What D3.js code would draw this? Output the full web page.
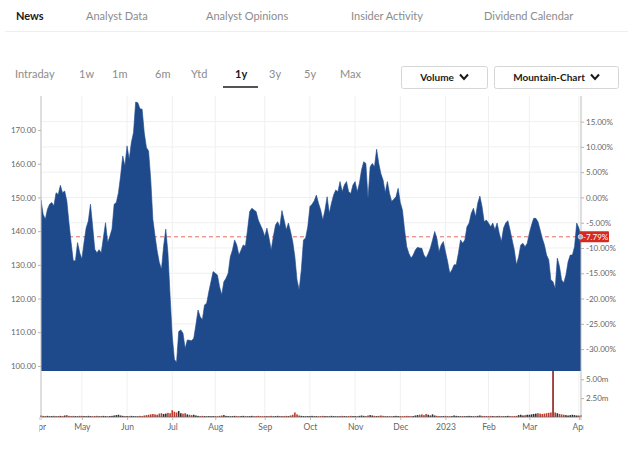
<!DOCTYPE html>
<html><head><meta charset="utf-8">
<script src="https://cdn.jsdelivr.net/npm/d3@7"></script>
<style>
html,body{margin:0;padding:0;background:#fff;}
svg{display:block;font-family:Lato,"Open Sans",sans-serif;}
</style></head><body>
<svg id="chart" width="634" height="460"></svg>
<script>
// ---------- data ----------
const navTabs = ["News", "Analyst Data", "Analyst Opinions", "Insider Activity", "Dividend Calendar"];
const activeTab = "News";
const rangeButtons = ["Intraday", "1w", "1m", "6m", "Ytd", "1y", "3y", "5y", "Max"];
const activeRange = "1y";
const dropdowns = ["Volume", "Mountain-Chart"];

// market holidays (trading calendar, Apr 2022 - Apr 2023)
const holidays = ["2022-04-15","2022-05-30","2022-06-20","2022-07-04","2022-09-05",
  "2022-11-24","2022-12-26","2023-01-02","2023-01-16","2023-02-20"];
const firstCalendarDay = "2022-04-01";
const lastCalendarDay = "2023-04-04";
const firstDataDay = "2022-04-04";

// daily closes, per month
const closesApr22 = [149.3,145,143.5,146.5,148,148.5,147.5,151.4,150.9,153.6,151.4,151.9,149,142.5,136.6,131.2,131.2,136.6,133.6];
const closesMay22 = [131.7,136.6,141,143,148,141.5,134.6,133.6,134.5,133.6,138.1,142.5,136.6,138.5,140.6,148,148.5,151.4,156.4,162.3,159.3];
const closesJun22 = [165.3,161.3,166.3,169.3,178.3,178.1,176.3,176.2,169.2,164.8,163.8,155.4,143.5,138.6,134.1,130.7,128.7,135.6,140.6,133.6,120.8];
const closesJul22 = [108.9,102,101,110.2,110.7,109.7,105.2,107.7,107.6,107.5,108.2,112.2,116.6,114.6,113.7,118.1,118.6,122,125,128];
const closesAug22 = [127.5,127,123.5,121.1,125,126,127.5,132.4,134.4,137.4,135.9,132.9,134.4,135.9,135.5,140.4,145.8,146.8,146.3,145.8,143.3,141.8,140.4];
const closesSep22 = [138.4,140.9,137.9,134.4,138.4,141.8,142.8,141.3,146.1,143.3,140.4,142.4,139.9,136.9,132.4,125.5,122.6,128.5,137.4,138,141.3];
const closesOct22 = [147.3,148,149,150.7,148.3,146.3,143.3,146.3,150.2,145.3,148.3,150.7,152.2,151.7,154.7,151.7,153.7,154.7,151.7,151.2,153.7];
const closesNov22 = [154.7,151.7,154.2,158.2,160.6,160.1,149.7,159.1,160.1,159.1,164.3,160.1,157,155.2,151.5,154.7,151.2,148.8,149.5,150.2,152.7];
const closesDec22 = [148.5,146.3,140.4,135.4,133.4,132,132.9,134.4,135.2,135,134.9,132.9,132,133.4,135,137.4,139.9,137.9,133.9,135.9,136.9];
const closesJan23 = [133.9,131,127.5,128.5,130,130,133.4,137.4,136.4,137.4,141.3,142.4,145.3,146.8,144.3,148.3,150.4,147.3,142.8,143.3];
const closesFeb23 = [142.4,141.3,142.4,140.4,142.4,139.4,136.9,140.9,142.4,143.1,140.4,137.4,134.4,130,132.4,135.9,136.4,135.4,136.4];
const closesMar23 = [139.4,141.8,143.8,143.8,142.8,140.4,137.9,135.9,132.9,131.5,125.5,125,123,132,129.5,125.5,124.7,127,130.9,132.9,132.9,135.4,142.4];
const closesApr23 = [140.9,138.32];

// daily volume in millions, per month
const volApr22 = [0.2,0.15,0.12,0.15,0.1,0.12,0.15,0.1,0.12,0.15,0.12,0.2,0.25,0.15,0.12,0.15,0.12,0.1,0.15];
const volMay22 = [0.15,0.12,0.1,0.15,0.12,0.1,0.12,0.15,0.1,0.12,0.15,0.12,0.1,0.12,0.15,0.2,0.25,0.3,0.2,0.15,0.12];
const volJun22 = [0.12,0.1,0.15,0.12,0.1,0.12,0.15,0.12,0.2,0.25,0.3,0.35,0.4,0.35,0.3,0.45,0.5,0.4,0.45,0.55,0.5];
const volJul22 = [0.9,0.7,0.6,0.8,0.5,0.45,0.5,0.35,0.3,0.25,0.3,0.2,0.15,0.12,0.15,0.12,0.1,0.12,0.1,0.12];
const volAug22 = [0.12,0.1,0.15,0.2,0.25,0.15,0.12,0.1,0.12,0.15,0.12,0.1,0.12,0.15,0.12,0.1,0.12,0.15,0.1,0.12,0.15,0.12,0.1];
const volSep22 = [0.12,0.1,0.12,0.15,0.1,0.12,0.15,0.12,0.1,0.12,0.15,0.12,0.2,0.3,0.6,0.35,0.2,0.15,0.12,0.1,0.12];
const volOct22 = [0.12,0.15,0.1,0.12,0.1,0.12,0.15,0.12,0.1,0.12,0.15,0.12,0.1,0.12,0.1,0.15,0.12,0.1,0.12,0.15,0.12];
const volNov22 = [0.12,0.1,0.15,0.2,0.15,0.12,0.2,0.25,0.2,0.15,0.12,0.15,0.2,0.15,0.12,0.1,0.12,0.1,0.12,0.15,0.12];
const volDec22 = [0.12,0.1,0.12,0.15,0.12,0.1,0.12,0.2,0.25,0.3,0.35,0.25,0.4,0.3,0.2,0.35,0.2,0.15,0.12,0.1,0.12];
const volJan23 = [0.15,0.12,0.1,0.12,0.2,0.15,0.12,0.1,0.12,0.1,0.12,0.15,0.12,0.1,0.12,0.15,0.2,0.15,0.12,0.1];
const volFeb23 = [0.12,0.15,0.12,0.1,0.12,0.15,0.12,0.1,0.12,0.15,0.12,0.1,0.12,0.15,0.25,0.3,0.2,0.25,0.3];
const volMar23 = [0.3,0.35,0.4,0.45,0.5,0.45,0.4,0.45,0.5,0.55,0.6,6.1,0.6,0.5,0.4,0.35,0.3,0.25,0.2,0.25,0.3,0.25,0.2];
const volApr23 = [0.2,0.25];

const referencePrice = 150;           // 0.00% level
const priceTicks = [100,110,120,130,140,150,160,170];
const pctTicks = [15,10,5,0,-5,-10,-15,-20,-25,-30];
const volumeTicks = [2.5,5];
const priceDomain = [98.5,180.1];

// ---------- build ----------
const closes = [].concat(closesApr22,closesMay22,closesJun22,closesJul22,closesAug22,closesSep22,
  closesOct22,closesNov22,closesDec22,closesJan23,closesFeb23,closesMar23,closesApr23);
const volumes = [].concat(volApr22,volMay22,volJun22,volJul22,volAug22,volSep22,volOct22,
  volNov22,volDec22,volJan23,volFeb23,volMar23,volApr23);

const parse = d3.timeParse("%Y-%m-%d"), fmt = d3.timeFormat("%Y-%m-%d");
const hol = new Set(holidays);
const calendar = d3.timeDay.range(parse(firstCalendarDay), d3.timeDay.offset(parse(lastCalendarDay),1))
  .filter(d => d.getDay() > 0 && d.getDay() < 6 && !hol.has(fmt(d)));
const startIdx = calendar.findIndex(d => fmt(d) === firstDataDay);
const data = closes.map((c,i) => ({idx: startIdx + i, date: calendar[startIdx+i], close: c, vol: volumes[i],
  up: i === 0 ? true : c >= closes[i-1]}));

const svg = d3.select("#chart");
const L = 41, R = 581, T = 96, PB = 371, VB = 417;

const x = d3.scaleLinear().domain(d3.extent(data, d => d.idx)).range([L, R]);
const yP = d3.scaleLinear().domain(priceDomain).range([PB, T]);
const yPct = d3.scaleLinear().domain(priceDomain.map(p => (p/referencePrice - 1)*100)).range([PB, T]);
const yV = d3.scaleLinear().domain([0, d3.max(volumes)]).range([VB, PB]);

// ---------- header ----------
const navX = [16, 86, 206, 351, 484];
svg.selectAll("text.nav").data(navTabs).join("text")
  .attr("x", (d,i) => navX[i]).attr("y", 20)
  .attr("font-size", 11).attr("font-weight", d => d === activeTab ? 700 : 400)
  .attr("fill", d => d === activeTab ? "#1a1a1a" : "#8c8c8c").text(d => d);
svg.append("line").attr("x1",5).attr("x2",628).attr("y1",31.5).attr("y2",31.5).attr("stroke","#efefef");

const rangeX = [15, 79, 112, 155, 191, 235, 269, 304, 340];
svg.selectAll("text.rng").data(rangeButtons).join("text")
  .attr("x", (d,i) => rangeX[i]).attr("y", 77.5)
  .attr("font-size", 11).attr("font-weight", d => d === activeRange ? 700 : 400)
  .attr("fill", d => d === activeRange ? "#1a1a1a" : "#8c8c8c").text(d => d);
svg.append("rect").attr("x",223).attr("y",86).attr("width",35).attr("height",2).attr("fill","#555");

const ddBox = [[401, 86], [494, 124]];
dropdowns.forEach((d,i) => {
  const [bx,bw] = ddBox[i];
  svg.append("rect").attr("x",bx+0.5).attr("y",66.5).attr("width",bw).attr("height",22)
    .attr("rx",2).attr("fill","#fff").attr("stroke","#d6d6d6");
  svg.append("text").attr("x", bx + bw/2 - 7).attr("y", 80.5).attr("text-anchor","middle")
    .attr("font-size",10).attr("font-weight",700).attr("fill","#1a1a1a").text(d);
  const cx = bx + bw - 23, cy = 77;
  svg.append("path").attr("d", `M${cx-4},${cy-2.5}L${cx},${cy+2}L${cx+4},${cy-2.5}`)
    .attr("fill","none").attr("stroke","#1a1a1a").attr("stroke-width",2);
});

// ---------- grid ----------
const monthIdx = calendar.map((d,i) => i).filter(i => i === 0 || calendar[i].getMonth() !== calendar[i-1].getMonth());
const g = svg.append("g");
g.selectAll("line.vg").data(monthIdx.filter(i => x(i) >= L && x(i) <= R)).join("line")
  .attr("x1", d => x(d)).attr("x2", d => x(d)).attr("y1", T).attr("y2", VB)
  .attr("stroke", "#f0f0f0");
g.selectAll("line.hg").data(pctTicks).join("line")
  .attr("x1", L).attr("x2", R).attr("y1", d => yPct(d)).attr("y2", d => yPct(d))
  .attr("stroke", "#f0f0f0");

// last price dashed line (behind area)
const last = data[data.length-1];
svg.append("line").attr("x1", L).attr("x2", R).attr("y1", yP(last.close)).attr("y2", yP(last.close))
  .attr("stroke", "#e0463c").attr("stroke-width", 0.8).attr("stroke-dasharray", "4,3");

// ---------- price area ----------
svg.append("clipPath").attr("id","pclip").append("rect").attr("x",L).attr("y",T).attr("width",R-L).attr("height",PB-T);
const area = d3.area().x(d => x(d.idx)).y0(PB).y1(d => yP(d.close));
svg.append("path").datum(data).attr("clip-path","url(#pclip)")
  .attr("d", area).attr("fill", "#1e4a8b").attr("stroke", "#1e4a8b").attr("stroke-width", 0.6);

// ---------- volume ----------
svg.append("g").selectAll("rect").data(data).join("rect")
  .attr("x", d => x(d.idx) - 0.8).attr("width", 1.6)
  .attr("y", d => yV(d.vol)).attr("height", d => VB - yV(d.vol))
  .attr("fill", d => d.vol > 3 ? "#8e1d1a" : (d.up ? "#2d2d2d" : "#c0392b"));
svg.append("line").attr("x1", L).attr("x2", R).attr("y1", VB).attr("y2", VB).attr("stroke", "#666").attr("stroke-width", 0.8);

// ---------- axes ----------
function styleAxis(sel) {
  sel.select(".domain").remove();
  sel.selectAll(".tick line").attr("stroke", "#b5b5b5");
  sel.selectAll(".tick text").attr("fill", "#666").attr("font-size", 8).attr("font-family", "Lato, 'Open Sans', sans-serif");
}
svg.append("line").attr("x1", L).attr("x2", L).attr("y1", T).attr("y2", 420).attr("stroke", "#bdbdbd");
svg.append("line").attr("x1", R).attr("x2", R).attr("y1", T).attr("y2", 420).attr("stroke", "#bdbdbd");

svg.append("g").attr("transform", `translate(${L},0)`)
  .call(d3.axisLeft(yP).tickValues(priceTicks).tickFormat(d => d.toFixed(2)).tickSize(3).tickPadding(2))
  .call(styleAxis);
svg.append("g").attr("transform", `translate(${R},0)`)
  .call(d3.axisRight(yPct).tickValues(pctTicks).tickFormat(d => d.toFixed(2) + "%").tickSize(3).tickPadding(2))
  .call(styleAxis);
svg.append("g").attr("transform", `translate(${R},0)`)
  .call(d3.axisRight(yV).tickValues(volumeTicks).tickFormat(d => d.toFixed(2) + "m").tickSize(3).tickPadding(2))
  .call(styleAxis);

svg.append("clipPath").attr("id","xclip").append("rect").attr("x",39.5).attr("y",VB).attr("width",544).attr("height",30);
const xWrap = svg.append("g").attr("clip-path","url(#xclip)");
const xAxis = xWrap.append("g").attr("transform", `translate(0,${VB})`)
  .call(d3.axisBottom(x).tickValues(monthIdx)
    .tickFormat(i => calendar[i].getMonth() === 0 ? d3.timeFormat("%Y")(calendar[i]) : d3.timeFormat("%b")(calendar[i]))
    .tickSize(3).tickPadding(4))
  .call(styleAxis);
xAxis.selectAll(".tick text").attr("font-size", 8.5);

// ---------- last value label ----------
const pctLast = (last.close / referencePrice - 1) * 100;
const ly = yP(last.close);
svg.append("rect").attr("x", 579).attr("y", ly - 5.5).attr("width", 30).attr("height", 11).attr("rx", 1).attr("fill", "#d42a20");
svg.append("text").attr("x", 583).attr("y", ly + 3).attr("font-size", 8)
  .attr("fill", "#fff").text(pctLast.toFixed(2) + "%");
svg.append("circle").attr("cx", R - 0.5).attr("cy", ly).attr("r", 2.3).attr("fill", "#9fb3d3").attr("stroke", "#fff").attr("stroke-width", 0.6);
</script>
</body></html>
